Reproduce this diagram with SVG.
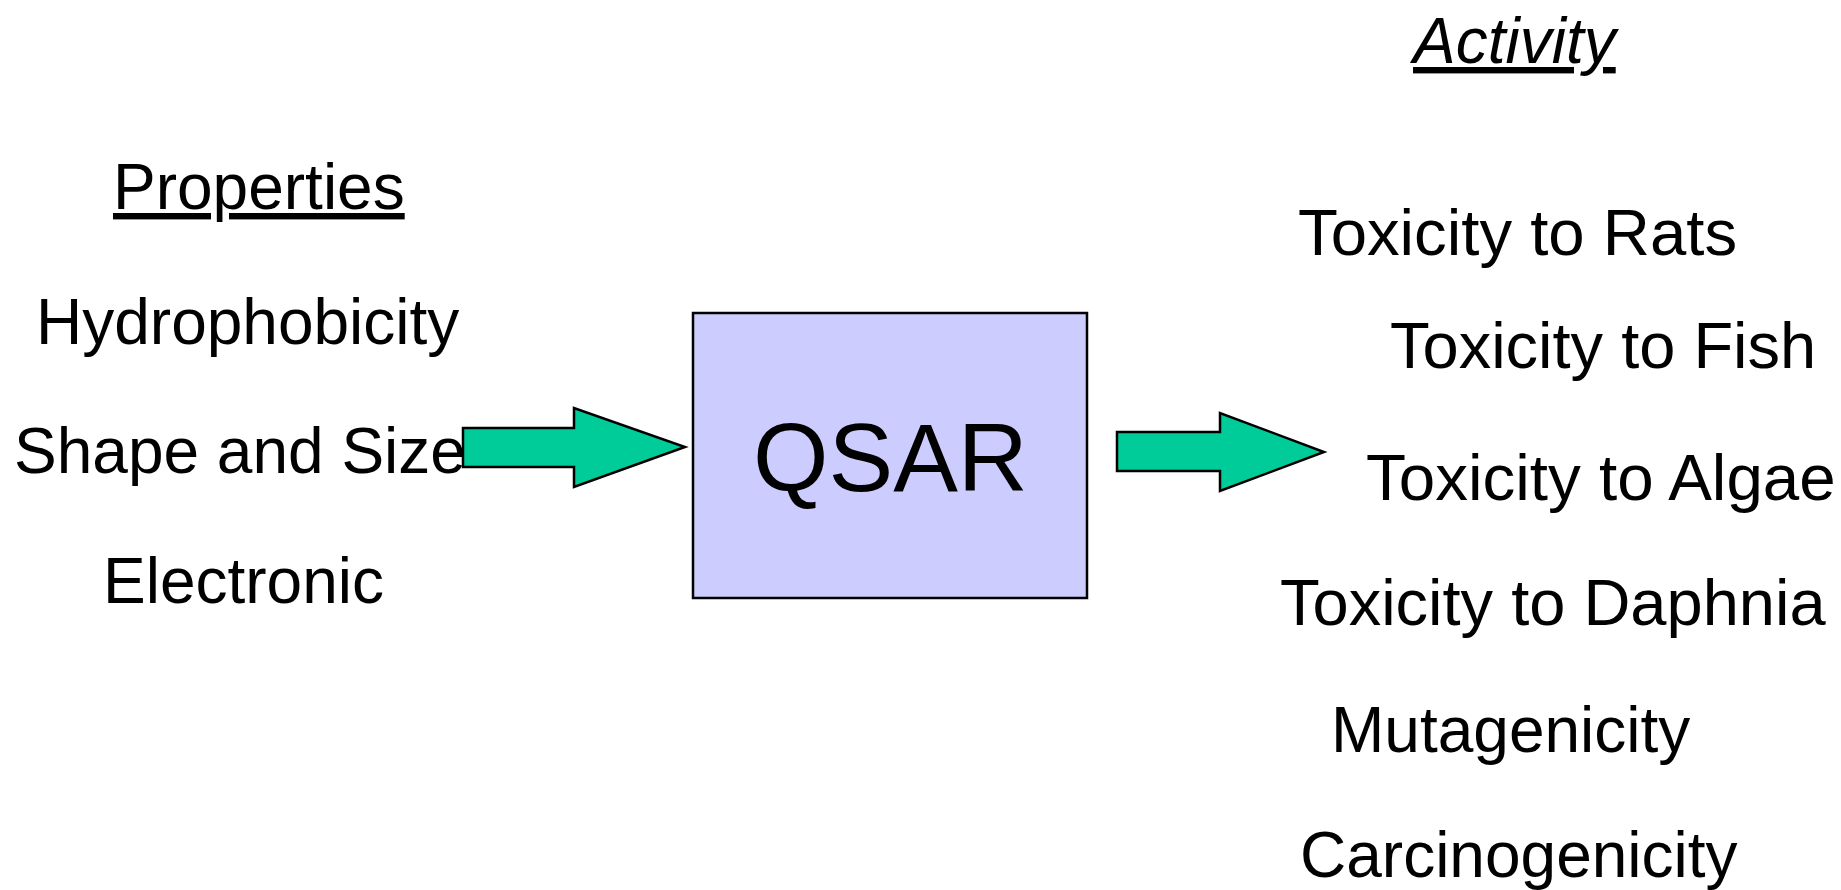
<svg xmlns="http://www.w3.org/2000/svg" width="1841" height="890" viewBox="0 0 1841 890">
  <style>
    .lbl { font-family: "Liberation Sans", Arial, sans-serif; font-size: 64px; fill: #000; }
    .out { font-size: 65px; }
    .head { text-decoration: underline; }
    .ital { font-style: italic; }
    .core { font-family: "Liberation Sans", Arial, sans-serif; font-size: 97px; fill: #000; }
    .box { fill: #CCCCFF; stroke: #000; stroke-width: 2.5; }
    .flow { fill: #00CC99; stroke: #000; stroke-width: 2.5; stroke-linejoin: miter; }
  </style>
  <rect width="1841" height="890" fill="#fff"/>

  <!-- input descriptors -->
  <g id="properties">
    <text class="lbl head" x="113" y="209">Properties</text>
  </g>
  <g id="hydrophobicity">
    <text class="lbl" x="36" y="344">Hydrophobicity</text>
  </g>
  <g id="shape-size">
    <text class="lbl" x="14" y="473">Shape and Size</text>
  </g>
  <g id="electronic">
    <text class="lbl" x="103" y="603">Electronic</text>
  </g>

  <!-- model -->
  <g id="qsar">
    <rect class="box" x="693" y="313" width="394" height="285"/>
    <text class="core" x="753" y="491">QSAR</text>
  </g>

  <!-- predicted endpoints -->
  <g id="activity">
    <text class="lbl head ital" x="1413" y="63">Activity</text>
  </g>
  <g id="tox-rats">
    <text class="lbl out" x="1298" y="255" style="font-size:65.3px">Toxicity to Rats</text>
  </g>
  <g id="tox-fish">
    <text class="lbl out" x="1390" y="368">Toxicity to Fish</text>
  </g>
  <g id="tox-algae">
    <text class="lbl out" x="1366" y="500" style="font-size:65.5px">Toxicity to Algae</text>
  </g>
  <g id="tox-daphnia">
    <text class="lbl out" x="1280" y="625">Toxicity to Daphnia</text>
  </g>
  <g id="mutagenicity">
    <text class="lbl" x="1331" y="752">Mutagenicity</text>
  </g>
  <g id="carcinogenicity">
    <text class="lbl" x="1300" y="877">Carcinogenicity</text>
  </g>

  <!-- block arrows -->
  <g id="connectors">
    <polygon class="flow" points="463,428 574,428 574,408 685,447 574,487 574,467 463,467"/>
    <polygon class="flow" points="1117,432 1220,432 1220,413 1324,452 1220,491 1220,471 1117,471"/>
  </g>
</svg>
